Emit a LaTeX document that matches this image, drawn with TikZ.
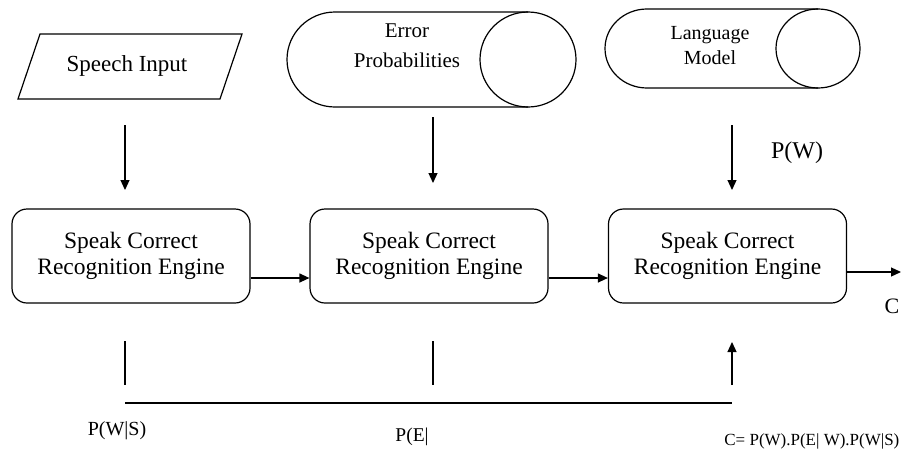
\documentclass[tikz,border=0pt]{standalone}
\usepackage{fontspec}
\setmainfont{LiberationSerif}[Extension=.ttf,UprightFont=*-Regular,BoldFont=*-Bold,ItalicFont=*-Italic]
\usetikzlibrary{arrows.meta}
\begin{document}
\begin{tikzpicture}[x=1pt,y=1pt,line width=1.2pt,
  arr/.style={-{Triangle[length=10pt,width=9pt]}},
  engine/.style={draw,rounded corners=15pt,minimum width=238pt,minimum height=94pt,
    align=center,inner sep=0pt,font=\fontsize{23.5}{26}\selectfont},
  lbl/.style={inner sep=0pt}]
\useasboundingbox (0,0) rectangle (901,-450);

% Speech input (parallelogram)
\draw (40,-34) -- (242,-34) -- (220,-99) -- (18,-99) -- cycle;
\node[lbl,font=\fontsize{23}{26}\selectfont] (speech) at (127,-66) {Speech Input};

% Error probabilities (cylinder)
\draw (528,-12) -- (335,-12) arc[start angle=90,end angle=270,x radius=48,y radius=47.5] -- (528,-107);
\draw (528,-59.5) ellipse[x radius=48,y radius=47.5];
\node[lbl,align=center,font=\fontsize{21}{30}\selectfont] (err) at (407,-46) {Error\\Probabilities};

% Language model (cylinder)
\draw (818,-9) -- (647,-9) arc[start angle=90,end angle=270,x radius=42,y radius=39.5] -- (818,-88);
\draw (818,-48.5) ellipse[x radius=42,y radius=39.5];
\node[lbl,align=center,font=\fontsize{20}{25}\selectfont] (lang) at (710,-46) {Language\\Model};

% Engines
\node[engine] (b1) at (131,-256) {Speak Correct\\Recognition Engine};
\node[engine] (b2) at (429,-256) {Speak Correct\\Recognition Engine};
\node[engine] (b3) at (727.5,-256) {Speak Correct\\Recognition Engine};

% Down arrows
\coordinate (a1s) at (125,-125); \coordinate (a1e) at (125,-190);
\coordinate (a2s) at (433,-117); \coordinate (a2e) at (433,-183);
\coordinate (a3s) at (732,-125); \coordinate (a3e) at (732,-190);
\draw[arr] (a1s) -- (a1e);
\draw[arr] (a2s) -- (a2e);
\draw[arr] (a3s) -- (a3e);
\node[lbl,font=\fontsize{24}{26}\selectfont] (pw) at (797,-153) {P(W)};

% Horizontal arrows
\draw[arr] ([yshift=-22pt]b1.east) -- ([yshift=-22pt]b2.west);
\draw[arr] ([yshift=-22pt]b2.east) -- ([yshift=-22pt]b3.west);
\coordinate (out) at (901,-272);
\draw[arr] ([yshift=-16pt]b3.east) -- (out);
\node[lbl,font=\fontsize{22}{24}\selectfont] (c) at (892,-306) {C};

% Bottom feedback lines
\coordinate (l1s) at (125,-341); \coordinate (l1e) at (125,-385);
\coordinate (l2s) at (433,-341); \coordinate (l2e) at (433,-385);
\coordinate (l3s) at (732,-385); \coordinate (l3e) at (732,-342);
\coordinate (hs) at (125,-403); \coordinate (he) at (732,-403);
\draw (l1s) -- (l1e);
\draw (l2s) -- (l2e);
\draw[arr] (l3s) -- (l3e);
\draw (hs) -- (he);

\node[lbl,font=\fontsize{20}{22}\selectfont] (pws) at (117,-431) {P(W|S)};
\node[lbl,font=\fontsize{19.5}{22}\selectfont] (pe) at (412,-437) {P(E|};
\node[lbl,anchor=east,font=\fontsize{17}{20}\selectfont] (formula) at (900,-441) {C= P(W).P(E| W).P(W|S)};
\end{tikzpicture}
\end{document}
